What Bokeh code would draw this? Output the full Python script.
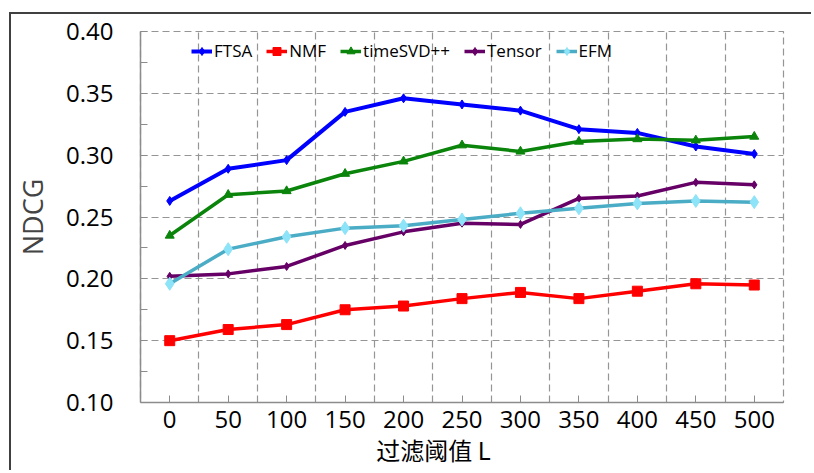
from bokeh.plotting import figure
from bokeh.models import FixedTicker, Legend, Label
from bokeh.embed import file_html
from bokeh.resources import INLINE

# ---- data ----
thresholds = [0, 50, 100, 150, 200, 250, 300, 350, 400, 450, 500]
ftsa = [0.263, 0.289, 0.296, 0.335, 0.346, 0.341, 0.336, 0.321, 0.318, 0.307, 0.301]
nmf = [0.150, 0.159, 0.163, 0.175, 0.178, 0.184, 0.189, 0.184, 0.190, 0.196, 0.195]
timesvd = [0.235, 0.268, 0.271, 0.285, 0.295, 0.308, 0.303, 0.311, 0.313, 0.312, 0.315]
tensor = [0.202, 0.204, 0.210, 0.227, 0.238, 0.245, 0.244, 0.265, 0.267, 0.278, 0.276]
efm = [0.196, 0.224, 0.234, 0.241, 0.243, 0.248, 0.253, 0.257, 0.261, 0.263, 0.262]
y_ticks = [0.10, 0.15, 0.20, 0.25, 0.30, 0.35, 0.40]
y_minor = [0.125, 0.175, 0.225, 0.275, 0.325, 0.375]
x_tick_labels = [str(t) for t in thresholds]
x_title = "过滤阈值 L"
y_title = "NDCG"

FONT = "Open Sans"
GRID = "#959595"
AXIS = "#8c8c8c"

half = (thresholds[1] - thresholds[0]) / 2
p = figure(width=802, height=458,
           x_range=(thresholds[0] - half, thresholds[-1] + half),
           y_range=(y_ticks[0], y_ticks[-1]),
           output_backend="svg", toolbar_location=None,
           min_border_left=127, min_border_right=30,
           min_border_top=17, min_border_bottom=70)
p.margin = (12, 0, 0, 9)
p.styles = {"border-top": "2px solid #404040", "border-left": "2px solid #404040"}
p.outline_line_color = GRID
p.outline_line_dash = "7 4"
p.outline_line_width = 1.2
p.background_fill_color = "white"
p.border_fill_color = "white"

# axes
p.xaxis.ticker = FixedTicker(ticks=thresholds)
p.xaxis.major_label_overrides = {t: s for t, s in zip(thresholds, x_tick_labels)}
p.yaxis.ticker = FixedTicker(ticks=y_ticks, minor_ticks=y_minor)
p.yaxis.major_label_overrides = {t: f"{t:.2f}" for t in y_ticks}
for ax in (p.xaxis[0], p.yaxis[0]):
    ax.axis_line_color = AXIS
    ax.axis_line_width = 1.5
    ax.major_tick_line_color = AXIS
    ax.major_tick_in = 7
    ax.major_tick_out = 0
    ax.major_label_text_font = FONT
    ax.major_label_text_font_size = "24px"
    ax.major_label_text_color = "black"
p.xaxis.minor_tick_line_color = None
p.xaxis.major_label_standoff = 8
p.yaxis.minor_tick_line_color = AXIS
p.yaxis.minor_tick_in = 7
p.yaxis.minor_tick_out = 0
p.yaxis.major_label_standoff = 27
p.yaxis.axis_label = y_title
p.yaxis.axis_label_text_font = FONT
p.yaxis.axis_label_text_font_size = "27px"
p.yaxis.axis_label_text_font_style = "normal"
p.yaxis.axis_label_standoff = 12

# grids
p.xgrid.ticker = FixedTicker(ticks=[t + half for t in thresholds])
p.ygrid.ticker = FixedTicker(ticks=y_ticks)
for g in (p.xgrid[0], p.ygrid[0]):
    g.grid_line_color = GRID
    g.grid_line_dash = "7 4"
    g.grid_line_width = 1.2

series = [
    ("FTSA", ftsa, "#0000ff", "#0000ff", "diamond", 9, 4),
    ("NMF", nmf, "#ff0000", "#ff0000", "square", 10, 3.5),
    ("timeSVD++", timesvd, "#0a840a", "#0a840a", "triangle", 9, 3.5),
    ("Tensor", tensor, "#660066", "#660066", "diamond", 8, 3.5),
    ("EFM", efm, "#4bacc6", "#8de3f7", "diamond", 13, 3.5),
]
items = []
for name, vals, lc, mc, marker, size, lw in series:
    r1 = p.line(thresholds, vals, line_color=lc, line_width=lw)
    r2 = p.scatter(thresholds, vals, marker=marker, size=size,
                   fill_color=mc, line_color=mc)
    items.append((name, [r1, r2]))

legend = Legend(items=items, orientation="horizontal", location=(51, 340),
                glyph_width=21, glyph_height=20, label_height=20,
                label_standoff=2, spacing=14, padding=0, margin=0,
                border_line_color=None, background_fill_alpha=0,
                label_text_font=FONT, label_text_font_size="17px",
                label_text_color="black")
p.add_layout(legend, "center")

p.add_layout(Label(x=293, y=16, x_units="screen", y_units="screen",
                   text=x_title, text_align="center", text_baseline="middle",
                   text_font="Noto Sans CJK SC", text_font_size="24px",
                   text_color="black"), "below")

open("out.html", "w").write(file_html(p, INLINE))
